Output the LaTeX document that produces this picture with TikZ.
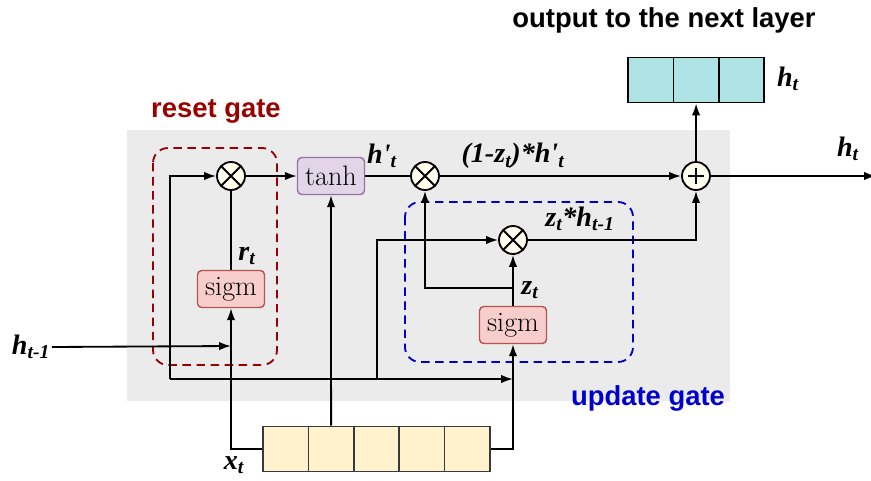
\documentclass[tikz,border=0pt]{standalone}
\usepackage{fontspec}
\newfontfamily\labfont{Liberation Serif}
\newfontfamily\headfont{Liberation Sans}
\usetikzlibrary{arrows.meta}
\definecolor{bggray}{HTML}{EBEBEB}
\definecolor{tanhfill}{HTML}{E1D5E7}
\definecolor{tanhdraw}{HTML}{9673A6}
\definecolor{sigmfill}{HTML}{F8CECC}
\definecolor{sigmdraw}{HTML}{B85450}
\definecolor{infill}{HTML}{FFF2CC}
\definecolor{indraw}{HTML}{36393D}
\definecolor{outfill}{HTML}{B0E3E6}
\definecolor{opfill}{HTML}{FFFFF0}
\definecolor{resetred}{HTML}{990000}
\definecolor{updblue}{HTML}{0000CC}

\begin{document}
\begin{tikzpicture}[x=0.025cm, y=-0.025cm,
    wire/.style={line width=1.3pt},
    arr/.style={line width=1.3pt, -{Latex[length=8.5pt,width=6pt]}},
    gatebox/.style={draw, rounded corners=3pt, line width=1pt, inner sep=0pt,
                    minimum width=1.675cm, minimum height=0.925cm,
                    font=\fontsize{20}{22}\selectfont},
    op/.style={circle, draw, line width=1.3pt, fill=opfill, minimum size=0.7cm, inner sep=0pt},
    mult/.style={op, path picture={
        \draw[line width=1.3pt] (path picture bounding box.north west) -- (path picture bounding box.south east)
              (path picture bounding box.north east) -- (path picture bounding box.south west);}},
    add/.style={op, path picture={
        \draw[line width=1.3pt] ([xshift=-0.2cm]path picture bounding box.center) -- ([xshift=0.2cm]path picture bounding box.center)
              ([yshift=-0.2cm]path picture bounding box.center) -- ([yshift=0.2cm]path picture bounding box.center);}},
    cell/.style={draw, line width=1.2pt, inner sep=0pt, minimum width=1.135cm, minimum height=1.13cm},
    lab/.style={font=\labfont\bfseries\itshape\fontsize{20}{22}\selectfont, inner sep=1pt},
    head/.style={font=\headfont\bfseries\fontsize{19.5}{22}\selectfont, inner sep=0pt},
    zone/.style={line width=1.3pt, dash pattern=on 6pt off 4pt, rounded corners=0.375cm}
  ]
    \useasboundingbox (0,0) rectangle (871,481);
    \fill[bggray] (127,130) rectangle (730,401);

    \draw[zone, resetred] (153,148) rectangle (277,365);
    \draw[zone, updblue] (405,202) rectangle (633,362);
    \node[head, text=resetred] (resetlab) at (216,111) {reset gate};
    \node[head, text=updblue] (updlab) at (648,398) {update gate};
    \node[head] (title) at (664,20) {output to the next layer};

    \node[mult] (mr) at (231,176) {};
    \node[gatebox, fill=tanhfill, draw=tanhdraw] (tanh) at (331,176) {tanh};
    \node[mult] (mz) at (425,176) {};
    \node[add] (plus) at (696,176) {};
    \node[mult] (mu) at (513,240) {};
    \node[gatebox, fill=sigmfill, draw=sigmdraw] (sr) at (231,289) {sigm};
    \node[gatebox, fill=sigmfill, draw=sigmdraw] (su) at (513,325) {sigm};

    \foreach \i in {1,...,5}
      \node[cell, fill=infill, draw=indraw] (in\i) at ({263+45.4*(\i-0.5)},449) {};
    \foreach \i in {1,2,3}
      \node[cell, fill=outfill] (out\i) at ({628+45.4*(\i-0.5)},80) {};

    \node[lab] (hprev) at (31,347) {h\textsubscript{t-1}};
    \node[lab] (xt) at (234,465) {x\textsubscript{t}};
    \node[lab] (rt) at (247,256) {r\textsubscript{t}};
    \node[lab] (zt) at (530,290) {z\textsubscript{t}};
    \node[lab] (hp) at (382,156) {h'\textsubscript{t}};
    \node[lab] (keep) at (513,156) {(1-z\textsubscript{t})*h'\textsubscript{t}};
    \node[lab] (upd) at (580,219) {z\textsubscript{t}*h\textsubscript{t-1}};
    \node[lab] (hnext) at (848,149) {h\textsubscript{t}};
    \node[lab] (hout) at (788,79) {h\textsubscript{t}};

    \coordinate (botl) at (170,379);
    \coordinate (botm) at (377,379);
    \coordinate (botr) at (513,379);
    \coordinate (zsplit) at (513,288);
    \coordinate (hprevend) at (231,346);
    \coordinate (nextend) at (876,176);

    \draw[arr] (botl) |- (mr.west);
    \draw[arr] (botl) -- (botr);
    \draw[arr] (botm) |- (mu.west);
    \draw[arr] (hprev.east) -- (hprevend);
    \draw[arr] (in1.west) -| (sr.south);
    \draw[arr] (in2.north) -- (tanh.south);
    \draw[arr] (in5.east) -| (su.south);
    \draw[wire] (sr.north) -- (mr.south);
    \draw[arr] (mr.east) -- (tanh.west);
    \draw[wire] (tanh.east) -- (mz.west);
    \draw[arr] (mz.east) -- (plus.west);
    \draw[arr] (su.north) -- (mu.south);
    \draw[arr] (zsplit) -| (mz.south);
    \draw[arr] (mu.east) -| (plus.south);
    \draw[arr] (plus.north) -- (out2.south);
    \draw[arr] (plus.east) -- (nextend);
  \end{tikzpicture}
\end{document}
